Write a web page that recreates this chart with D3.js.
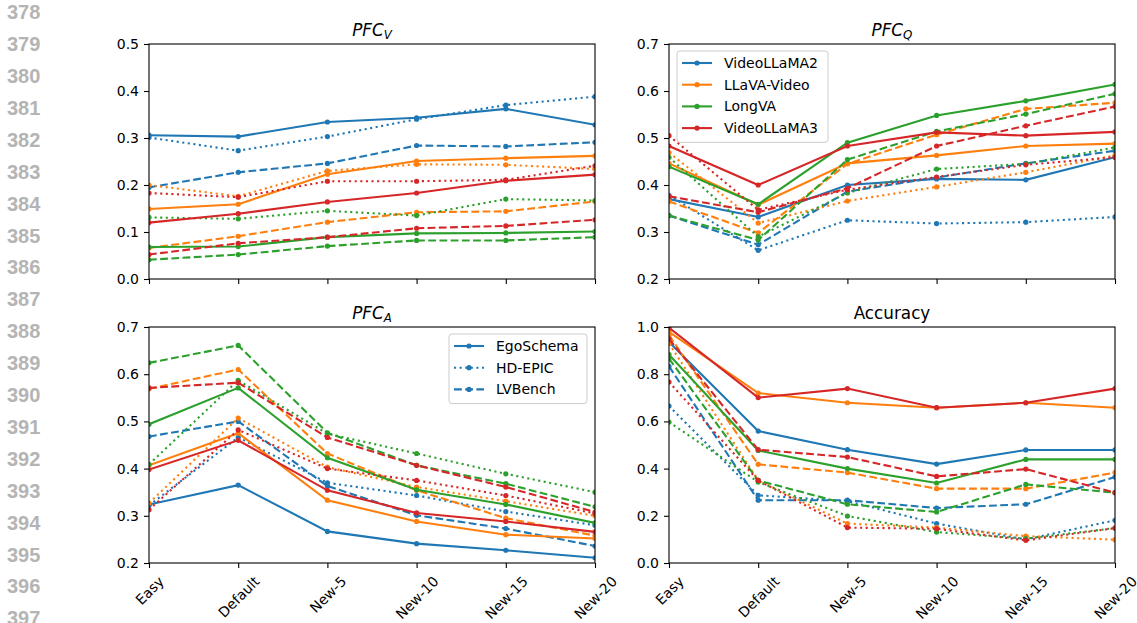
<!DOCTYPE html>
<html>
<head>
<meta charset="utf-8">
<script src="https://cdn.jsdelivr.net/npm/d3@7"></script>
<style>
  body { margin: 0; background: #fff; }
  svg { display: block; }
</style>
</head>
<body>
<div id="chart"></div>
<script>
// x categories, models and datasets
const categories = ["Easy", "Default", "New-5", "New-10", "New-15", "New-20"];
const models = ["VideoLLaMA2", "LLaVA-Video", "LongVA", "VideoLLaMA3"];
const datasets = ["EgoSchema", "HD-EPIC", "LVBench"];
const lineNumbers = d3.range(378, 398);

// rows follow the models order
const pfcV_EgoSchema = [
  [0.306, 0.303, 0.334, 0.343, 0.362, 0.328],
  [0.149, 0.159, 0.223, 0.251, 0.257, 0.262],
  [0.068, 0.069, 0.089, 0.097, 0.098, 0.101],
  [0.120, 0.139, 0.164, 0.183, 0.209, 0.222]
];
const pfcV_HDEPIC = [
  [0.301, 0.273, 0.303, 0.340, 0.370, 0.388],
  [0.200, 0.176, 0.230, 0.244, 0.243, 0.234],
  [0.131, 0.128, 0.145, 0.135, 0.170, 0.167],
  [0.183, 0.174, 0.208, 0.208, 0.211, 0.241]
];
const pfcV_LVBench = [
  [0.195, 0.227, 0.246, 0.284, 0.282, 0.291],
  [0.066, 0.091, 0.121, 0.142, 0.144, 0.165],
  [0.041, 0.052, 0.070, 0.082, 0.082, 0.089],
  [0.052, 0.076, 0.089, 0.108, 0.113, 0.126]
];

const pfcQ_EgoSchema = [
  [0.370, 0.332, 0.400, 0.413, 0.411, 0.459],
  [0.446, 0.358, 0.446, 0.463, 0.483, 0.488],
  [0.439, 0.359, 0.490, 0.548, 0.579, 0.614],
  [0.483, 0.400, 0.483, 0.512, 0.505, 0.513]
];
const pfcQ_HDEPIC = [
  [0.378, 0.261, 0.325, 0.318, 0.321, 0.332],
  [0.469, 0.319, 0.366, 0.396, 0.427, 0.463],
  [0.459, 0.290, 0.383, 0.434, 0.445, 0.480],
  [0.505, 0.347, 0.390, 0.417, 0.443, 0.459]
];
const pfcQ_LVBench = [
  [0.335, 0.273, 0.386, 0.416, 0.446, 0.473],
  [0.365, 0.298, 0.445, 0.507, 0.562, 0.575],
  [0.335, 0.283, 0.454, 0.514, 0.551, 0.594],
  [0.376, 0.342, 0.393, 0.483, 0.526, 0.567]
];

const pfcA_EgoSchema = [
  [0.324, 0.365, 0.267, 0.241, 0.227, 0.211],
  [0.407, 0.475, 0.333, 0.288, 0.260, 0.252],
  [0.494, 0.571, 0.423, 0.355, 0.324, 0.285],
  [0.398, 0.460, 0.354, 0.306, 0.288, 0.266]
];
const pfcA_HDEPIC = [
  [0.322, 0.466, 0.370, 0.343, 0.309, 0.280],
  [0.327, 0.507, 0.403, 0.361, 0.331, 0.300],
  [0.409, 0.587, 0.474, 0.432, 0.389, 0.350],
  [0.313, 0.482, 0.400, 0.375, 0.343, 0.305]
];
const pfcA_LVBench = [
  [0.468, 0.500, 0.363, 0.301, 0.273, 0.236],
  [0.569, 0.610, 0.432, 0.354, 0.295, 0.258],
  [0.624, 0.661, 0.476, 0.407, 0.368, 0.319],
  [0.571, 0.582, 0.466, 0.407, 0.361, 0.308]
];

const acc_EgoSchema = [
  [0.936, 0.559, 0.480, 0.419, 0.479, 0.479],
  [0.979, 0.720, 0.679, 0.658, 0.679, 0.658],
  [0.883, 0.477, 0.400, 0.339, 0.439, 0.439],
  [0.997, 0.701, 0.739, 0.658, 0.679, 0.739]
];
const acc_HDEPIC = [
  [0.665, 0.287, 0.262, 0.167, 0.100, 0.181],
  [0.930, 0.350, 0.167, 0.150, 0.114, 0.099],
  [0.597, 0.343, 0.199, 0.131, 0.103, 0.148],
  [0.767, 0.350, 0.150, 0.145, 0.096, 0.148]
];
const acc_LVBench = [
  [0.833, 0.266, 0.266, 0.233, 0.249, 0.364],
  [0.965, 0.418, 0.383, 0.315, 0.315, 0.383],
  [0.866, 0.350, 0.249, 0.216, 0.333, 0.298],
  [0.950, 0.480, 0.449, 0.367, 0.398, 0.298]
];

const colors = ["#1f77b4", "#ff7f0e", "#2ca02c", "#d62728"];
const dashes = [null, "2.1,3.5", "7.8,3.4"];

const panels = [
  { title: ["PFC", "V"], domain: [0, 0.5], ticks: d3.range(0, 0.51, 0.1), data: [pfcV_EgoSchema, pfcV_HDEPIC, pfcV_LVBench], box: [149, 595, 44, 279] },
  { title: ["PFC", "Q"], domain: [0.2, 0.7], ticks: d3.range(0.2, 0.71, 0.1), data: [pfcQ_EgoSchema, pfcQ_HDEPIC, pfcQ_LVBench], box: [669, 1115, 44, 279], legend: "model" },
  { title: ["PFC", "A"], domain: [0.2, 0.7], ticks: d3.range(0.2, 0.71, 0.1), data: [pfcA_EgoSchema, pfcA_HDEPIC, pfcA_LVBench], box: [149, 595, 327, 563], legend: "dataset", xLabels: true },
  { title: ["Accuracy"], domain: [0, 1], ticks: d3.range(0, 1.01, 0.2), data: [acc_EgoSchema, acc_HDEPIC, acc_LVBench], box: [669, 1115, 327, 563], xLabels: true }
];

const W = 1137, H = 623;
const FONT = "'DejaVu Sans', sans-serif";

const svg = d3.select("#chart").append("svg")
  .attr("width", W)
  .attr("height", H);

// page line numbers at left
svg.append("g")
  .selectAll("text")
  .data(lineNumbers)
  .join("text")
  .attr("x", 7)
  .attr("y", (d, i) => 12 + i * 31.9)
  .attr("dy", "0.36em")
  .attr("font-family", "'Liberation Sans', Arial, sans-serif")
  .attr("font-weight", "bold")
  .attr("font-size", 20)
  .attr("fill", "#b4b4b4")
  .text(d => d);

panels.forEach((p, pi) => {
  const [x0, x1, y0, y1] = p.box;
  const x = d3.scalePoint().domain(categories).range([x0, x1]);
  const y = d3.scaleLinear().domain(p.domain).range([y1, y0]);

  const g = svg.append("g");

  const clipId = "clip" + pi;
  svg.append("clipPath").attr("id", clipId)
    .append("rect")
    .attr("x", x0).attr("y", y0)
    .attr("width", x1 - x0).attr("height", y1 - y0);

  // y axis
  const yAxis = g.append("g")
    .attr("transform", `translate(${x0},0)`)
    .call(d3.axisLeft(y).tickValues(p.ticks).tickFormat(d3.format(".1f")).tickSize(5).tickPadding(5));
  yAxis.select(".domain").remove();
  yAxis.selectAll("line").attr("stroke", "#000").attr("stroke-width", 1.1);
  yAxis.selectAll("text").attr("font-family", FONT).attr("font-size", 14).attr("fill", "#000");

  // x axis; only the bottom row shows labels, rotated 45deg and centred on the tick
  const xAxis = g.append("g")
    .attr("transform", `translate(0,${y1})`)
    .call(d3.axisBottom(x).tickSize(5).tickPadding(5));
  xAxis.select(".domain").remove();
  xAxis.selectAll("line").attr("stroke", "#000").attr("stroke-width", 1.1);
  if (!p.xLabels) {
    xAxis.selectAll("text").remove();
  } else {
    xAxis.selectAll("text")
      .attr("font-family", FONT).attr("font-size", 14).attr("fill", "#000")
      .attr("text-anchor", "middle")
      .attr("dy", "0.36em")
      .each(function() {
        const w = this.getComputedTextLength();
        const h = 14 * 1.16;
        const cy = 10 + (w + h) * Math.SQRT1_2 / 2;
        d3.select(this).attr("y", null).attr("transform", `translate(0,${cy}) rotate(-45)`);
      });
  }

  // lines
  const line = d3.line()
    .x((d, i) => x(categories[i]))
    .y(d => y(d));
  const plot = g.append("g").attr("clip-path", `url(#${clipId})`);
  models.forEach((m, mi) => {
    datasets.forEach((ds, di) => {
      const vals = p.data[di][mi];
      plot.append("path")
        .datum(vals)
        .attr("fill", "none")
        .attr("stroke", colors[mi])
        .attr("stroke-width", 2.1)
        .attr("stroke-dasharray", dashes[di])
        .attr("d", line);
      plot.append("g")
        .selectAll("circle")
        .data(vals)
        .join("circle")
        .attr("cx", (d, i) => x(categories[i]))
        .attr("cy", d => y(d))
        .attr("r", 2.6)
        .attr("fill", colors[mi]);
    });
  });

  // frame
  g.append("rect")
    .attr("x", x0).attr("y", y0)
    .attr("width", x1 - x0).attr("height", y1 - y0)
    .attr("fill", "none")
    .attr("stroke", "#000")
    .attr("stroke-width", 1.1);

  // title
  const t = g.append("text")
    .attr("x", (x0 + x1) / 2)
    .attr("y", y0 - 8.4)
    .attr("text-anchor", "middle")
    .attr("font-family", FONT)
    .attr("font-size", 16.8)
    .attr("fill", "#000");
  if (p.title.length === 2) {
    t.append("tspan").attr("font-style", "italic").text(p.title[0]);
    t.append("tspan").attr("font-style", "italic").attr("font-size", 11.8).attr("dy", 3.5).text(p.title[1]);
  } else {
    t.text(p.title[0]);
  }

  // legends
  if (p.legend) {
    const entries = p.legend === "model"
      ? models.map((m, i) => ({ label: m, color: colors[i], dash: null }))
      : datasets.map((d, i) => ({ label: d, color: colors[0], dash: dashes[i] }));
    const lx = p.legend === "model" ? x0 + 8 : 449;
    const ly = p.legend === "model" ? y0 + 7 : 334;
    const lw = p.legend === "model" ? 151 : 138;
    const rowH = 21.7;
    const lh = entries.length * rowH + 4.5;
    const lg = g.append("g").attr("transform", `translate(${lx},${ly})`);
    lg.append("rect")
      .attr("width", lw).attr("height", lh)
      .attr("rx", 3)
      .attr("fill", "#fff").attr("fill-opacity", 0.8)
      .attr("stroke", "#cccccc").attr("stroke-width", 1);
    entries.forEach((e, i) => {
      const cy = 12 + i * rowH;
      lg.append("line")
        .attr("x1", 5).attr("x2", 35)
        .attr("y1", cy).attr("y2", cy)
        .attr("stroke", e.color).attr("stroke-width", 2.1)
        .attr("stroke-dasharray", e.dash);
      lg.append("circle").attr("cx", 20).attr("cy", cy).attr("r", 2.6).attr("fill", e.color);
      lg.append("text")
        .attr("x", 47).attr("y", cy)
        .attr("dy", "0.36em")
        .attr("font-family", FONT).attr("font-size", 14).attr("fill", "#000")
        .text(e.label);
    });
  }
});
</script>
</body>
</html>
